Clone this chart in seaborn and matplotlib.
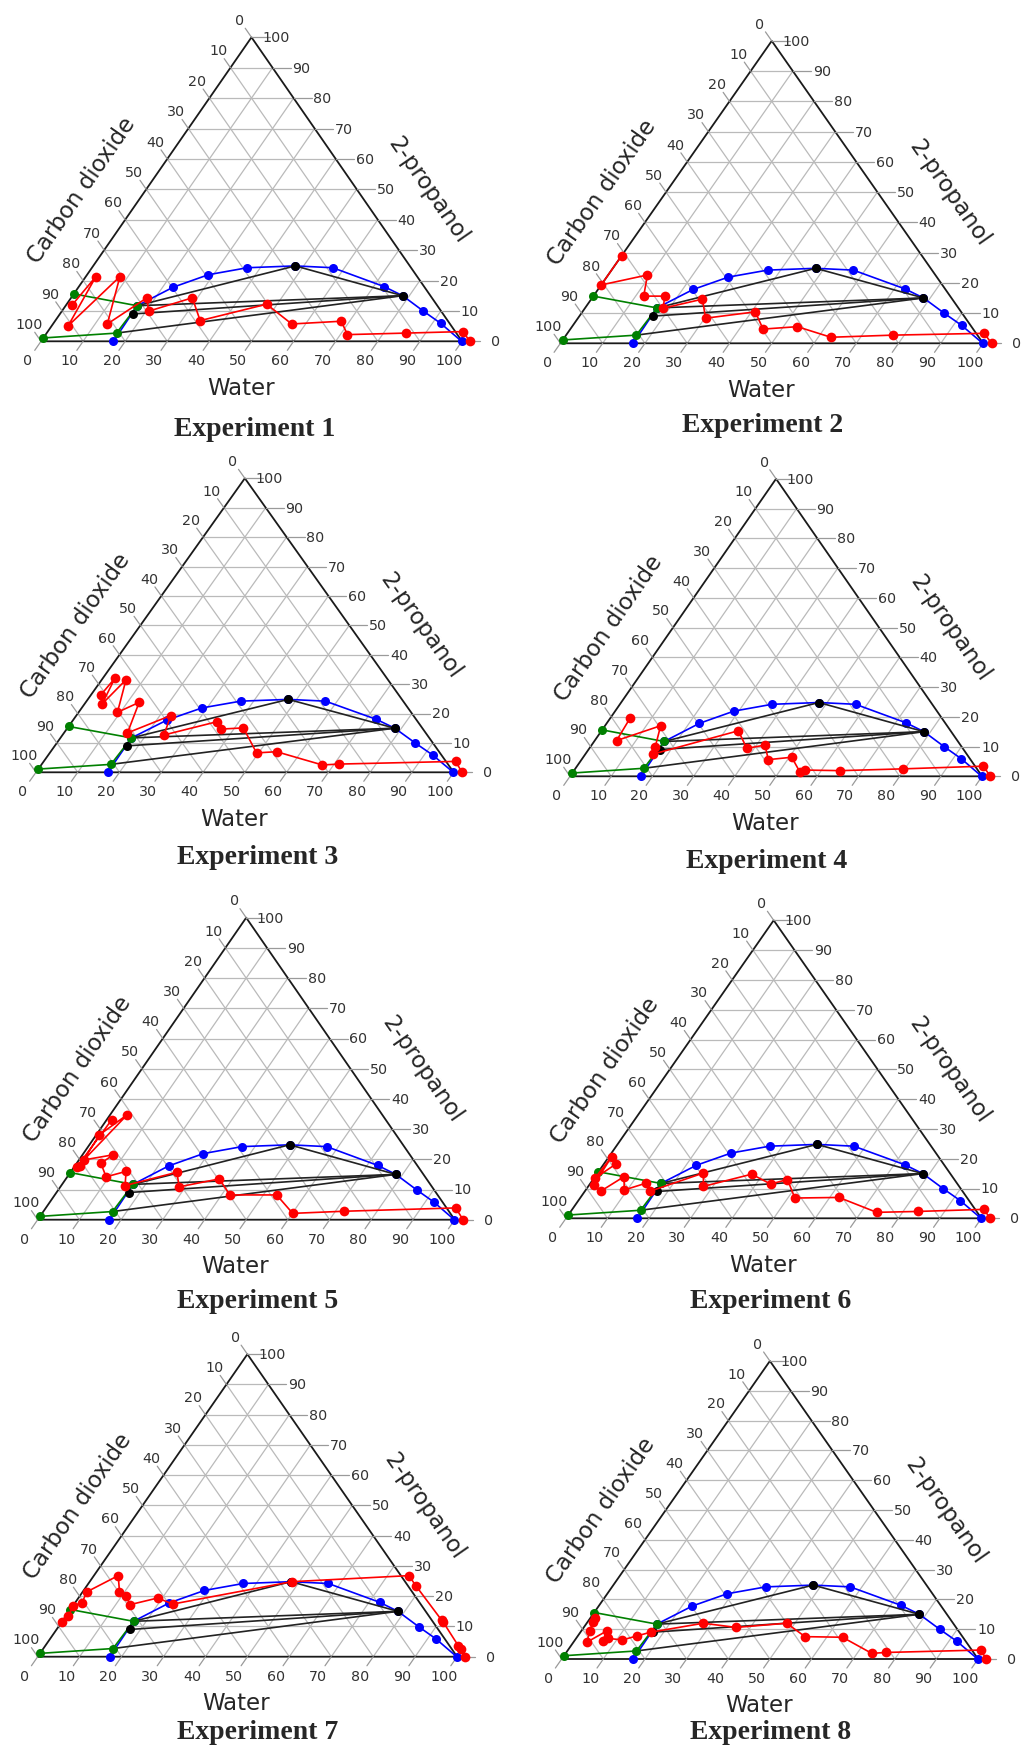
import numpy as np
import matplotlib
matplotlib.use("Agg")
import matplotlib.pyplot as plt
import seaborn as sns

# compositions in % : water and 2-propanol (carbon dioxide is the rest)
binodal_water = [17.2, 17.0, 22.5, 28.8, 36.9, 48.0, 57.2, 72.5, 78.4, 85.9, 92.0, 99.9]
binodal_prop = [0.0, 11.7, 17.8, 21.9, 24.2, 24.8, 24.2, 18.0, 15.0, 9.9, 5.9, 0.0]

green_water = [0.0, 17.0, 16.6, 0.0]
green_prop = [15.6, 11.7, 2.7, 1.1]

tie_start_water = [17.0, 48.0, 78.4, 78.4, 78.4]
tie_start_prop = [11.7, 24.8, 15.0, 15.0, 15.0]
tie_end_water = [48.0, 78.4, 17.0, 17.4, 16.6]
tie_end_prop = [24.8, 15.0, 11.7, 9.0, 2.7]

tie_point_water = [17.4, 48.0, 78.4]
tie_point_prop = [9.0, 24.8, 15.0]

exp1_water = [1.4, 2.4, 3.9, 8.1, 12.9, 18.0, 20.6, 28.8, 34.4, 47.5, 56.7, 68.0, 71.7, 85.3, 98.7, 101.8]
exp1_prop = [11.8, 21.3, 5.1, 21.3, 5.7, 14.3, 9.9, 14.3, 6.8, 12.2, 5.7, 6.6, 2.2, 2.7, 3.2, 0.0]

exp2_water = [0.0, 0.0, 9.3, 11.9, 16.9, 18.5, 26.3, 30.2, 40.9, 45.6, 53.3, 63.0, 77.3, 98.6, 102.0]
exp2_prop = [29.0, 19.3, 22.6, 15.6, 15.6, 11.6, 14.6, 8.3, 10.4, 4.7, 5.5, 2.0, 2.7, 3.3, 0.0]

exp3_water = [2.35, 2.9, 4.2, 5.8, 9.3, 12.8, 15.2, 22.6, 24.3, 34.7, 36.9, 42.1, 49.5, 54.1, 67.3, 71.2, 98.6, 102.0]
exp3_prop = [26.3, 32.0, 23.2, 31.5, 20.4, 23.8, 13.4, 19.3, 12.7, 17.2, 14.7, 15.1, 6.6, 7.0, 2.5, 2.8, 3.7, 0.0]

exp4_water = [4.8, 5.3, 13.5, 15.8, 16.5, 33.2, 38.2, 42.1, 45.3, 50.6, 55.2, 56.0, 64.6, 79.5, 98.6, 102.0]
exp4_prop = [19.6, 12.0, 17.0, 9.7, 7.5, 15.3, 9.4, 10.5, 5.6, 6.4, 1.3, 2.1, 1.9, 2.5, 3.4, 0.0]

exp5_water = [1.2, 0.7, 4.1, 0.75, 1.2, 1.2, 7.4, 5.8, 9.3, 13.2, 15.3, 25.5, 28.5, 36.8, 42.0, 53.2, 60.1, 72.1, 98.3, 102.0]
exp5_prop = [33.0, 17.4, 34.8, 28.1, 17.9, 19.8, 21.5, 18.7, 14.2, 16.0, 11.3, 15.7, 10.9, 13.5, 8.2, 8.2, 2.1, 2.8, 3.9, 0.0]

exp6_water = [2.9, 0.25, 0.65, 1.1, 3.8, 7.0, 9.25, 13.4, 15.7, 25.5, 27.7, 37.3, 43.5, 46.8, 51.7, 62.2, 73.8, 83.5, 99.2, 102.0]
exp6_prop = [18.2, 13.5, 20.7, 11.2, 9.1, 14.0, 9.5, 11.8, 9.1, 15.2, 10.7, 14.8, 11.5, 13.0, 6.8, 7.0, 2.0, 2.3, 3.0, 0.0]

exp7_water = [0.0, 0.6, 0.05, 1.6, 1.05, 5.8, 8.75, 11.0, 13.4, 18.9, 23.5, 48.2, 75.1, 78.6, 90.25, 91.0, 98.5, 99.6, 102.0]
exp7_prop = [11.4, 13.4, 16.9, 17.8, 21.5, 26.8, 21.5, 20.2, 17.2, 19.4, 17.4, 24.8, 26.8, 23.3, 12.1, 11.4, 3.6, 2.5, 0.0]

exp8_water = [1.15, 1.15, 2.05, 3.2, 6.1, 6.8, 7.75, 11.4, 14.3, 16.9, 28.0, 36.6, 48.0, 54.7, 63.8, 73.5, 76.9, 99.1, 102.0]
exp8_prop = [13.7, 12.5, 9.5, 5.6, 9.4, 6.1, 6.9, 6.4, 7.8, 9.0, 12.0, 10.6, 12.0, 7.5, 7.3, 1.9, 2.2, 3.0, 0.0]

red_water = [exp1_water, exp2_water, exp3_water, exp4_water,
             exp5_water, exp6_water, exp7_water, exp8_water]
red_prop = [exp1_prop, exp2_prop, exp3_prop, exp4_prop,
            exp5_prop, exp6_prop, exp7_prop, exp8_prop]

tick_values = list(range(0, 101, 10))
titles = ["Experiment %d" % i for i in range(1, 9)]

# triangle placement in pixels: left vertex x, base y, base width, height
panels = [(41, 342.3, 421, 304), (560.4, 344.3, 422.7, 302.4),
          (36, 773.3, 417.7, 294), (570, 777.3, 412.1, 297.5),
          (37.7, 1220.7, 417, 302), (566, 1219.3, 415.4, 298),
          (37.7, 1657.7, 419.4, 302.5), (561.7, 1660, 416.4, 298)]
title_pos = [(255, 430), (763, 426), (258, 858), (767, 861),
             (258, 1301), (771, 1301), (258, 1733), (771, 1733)]

FW, FH = 1023, 1758
S3 = np.sqrt(3) / 2

sns.set_style("white")
plt.rcParams['font.family'] = ['DejaVu Sans']


def tern(water, prop):
    w = np.asarray(water, dtype=float)
    p = np.asarray(prop, dtype=float)
    return w + p / 2, p * S3


fig = plt.figure(figsize=(FW / 100, FH / 100), dpi=100)

for k, (L, B, W, H) in enumerate(panels):
    ax = fig.add_axes([L / FW, 1 - B / FH, W / FW, H / FH])
    sx, sy = 100 / W, 100 * S3 / H  # data units per pixel
    n = np.hypot(W / 2, H)
    ex, ey = (W / 2) / n, H / n      # unit along left edge (pixels)

    # grid
    for v in tick_values[1:-1]:
        segs = [tern([0, 100 - v], [v, v]),
                tern([v, v], [0, 100 - v]),
                tern([100 - v, 0], [0, 100 - v])]
        for gx, gy in segs:
            ax.plot(gx, gy, color="#bababa", lw=0.9, zorder=1, clip_on=False)

    # boundary
    bx, by = tern([0, 100, 0, 0], [0, 0, 100, 0])
    ax.plot(bx, by, color="#1a1a1a", lw=1.3, zorder=2, clip_on=False)

    # ticks and tick labels
    for v in tick_values:
        # bottom (water)
        x0, y0 = tern(v, 0)
        ax.plot([x0, x0 - 11 * ex * sx], [y0, y0 - 11 * ey * sy],
                color="#9a9a9a", lw=0.9, clip_on=False)
        ax.text(x0 - 23 * ex * sx, y0 - 23 * ey * sy, str(v), ha="center",
                va="center", fontsize=10.3, color="#333333")
        # right (2-propanol)
        x0, y0 = tern(100 - v, v)
        ax.plot([x0, x0 + 18 * sx], [y0, y0], color="#9a9a9a", lw=0.9,
                clip_on=False)
        ax.text(x0 + 38 * sx, y0, str(v), ha="right", va="center",
                fontsize=10.3, color="#333333")
        # left (carbon dioxide)
        x0, y0 = tern(0, 100 - v)
        ax.plot([x0, x0 - 11 * ex * sx], [y0, y0 + 11 * ey * sy],
                color="#9a9a9a", lw=0.9, clip_on=False)
        ax.text(x0 - 21 * ex * sx, y0 + 21 * ey * sy, str(v), ha="center",
                va="center", fontsize=10.3, color="#333333")

    ang = np.degrees(np.arctan2(H, W / 2))
    ax.text(47.4, -46 * sy, "Water", ha="center", va="center", fontsize=16.5)
    ax.text(25 - 64.5 * sx, 50 * S3, "Carbon dioxide", ha="center",
            va="center", rotation=ang, fontsize=16.5)
    ax.text(75 + 71.5 * sx, 50 * S3, "2-propanol", ha="center",
            va="center", rotation=-ang, fontsize=16.5)

    # binodal curve
    cx, cy = tern(binodal_water, binodal_prop)
    sns.lineplot(x=cx, y=cy, sort=False, estimator=None, color="blue",
                 marker="o", markersize=6.5, markeredgewidth=0, lw=1.2,
                 ax=ax, zorder=3, clip_on=False)
    # tie lines
    for i in range(len(tie_start_water)):
        tx, ty = tern([tie_start_water[i], tie_end_water[i]],
                      [tie_start_prop[i], tie_end_prop[i]])
        sns.lineplot(x=tx, y=ty, sort=False, estimator=None, color="#222222",
                     lw=1.2, ax=ax, zorder=4, clip_on=False)
    # green phase
    gx, gy = tern(green_water, green_prop)
    sns.lineplot(x=gx, y=gy, sort=False, estimator=None, color="green",
                 marker="o", markersize=6.5, markeredgewidth=0, lw=1.2,
                 ax=ax, zorder=5, clip_on=False)
    px, py = tern(tie_point_water, tie_point_prop)
    sns.scatterplot(x=px, y=py, color="black", s=42, linewidth=0, ax=ax,
                    zorder=6, clip_on=False)
    # experiment path
    rx, ry = tern(red_water[k], red_prop[k])
    sns.lineplot(x=rx, y=ry, sort=False, estimator=None, color="red",
                 marker="o", markersize=7, markeredgewidth=0, lw=1.2,
                 alpha=1, ax=ax, zorder=7, clip_on=False)

    ax.set_xlim(0, 100)
    ax.set_ylim(0, 100 * S3)
    ax.axis("off")

    tx, ty = title_pos[k]
    fig.text(tx / FW, 1 - ty / FH, titles[k], ha="center", va="center",
             fontsize=20, fontweight="bold", family="Liberation Serif")

fig.savefig("out.png", dpi=100)
